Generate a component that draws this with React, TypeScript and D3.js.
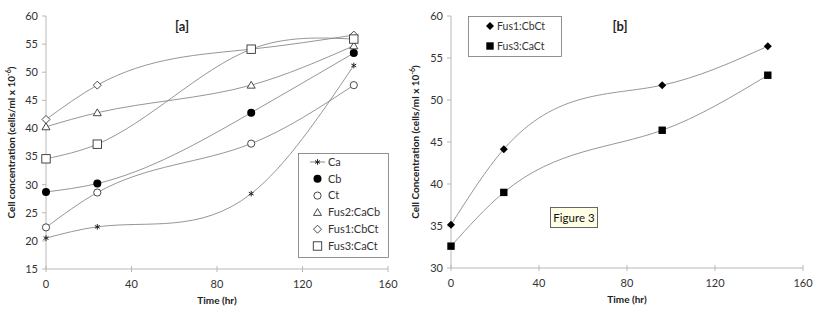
import React, { useEffect, useRef } from 'react';
import * as d3 from 'd3';

// time points (hr)
const hours = [0, 24, 96, 144];

// panel [a] series
const caValues = [20.5, 22.5, 28.4, 51.2];
const cbValues = [28.7, 30.2, 42.8, 53.4];
const ctValues = [22.4, 28.6, 37.3, 47.7];
const fus2Values = [40.3, 42.8, 47.7, 54.7];
const fus1Values = [41.6, 47.7, 54.1, 56.6];
const fus3Values = [34.6, 37.2, 54.1, 55.9];

// panel [b] series
const fus1bValues = [35.15, 44.15, 51.76, 56.4];
const fus3bValues = [32.6, 39.0, 46.4, 52.95];

const xTicks = [0, 40, 80, 120, 160];
const yTicksA = [15, 20, 25, 30, 35, 40, 45, 50, 55, 60];
const yTicksB = [30, 35, 40, 45, 50, 55, 60];

const FONT = 'Lato, "Open Sans", sans-serif';
const AXIS = '#b8b8b8';
const LINE = '#8a8a8a';

type Series = { name: string; values: number[]; marker: string };

const seriesA: Series[] = [
  { name: 'Ca', values: caValues, marker: 'star' },
  { name: 'Cb', values: cbValues, marker: 'dot' },
  { name: 'Ct', values: ctValues, marker: 'circle' },
  { name: 'Fus2:CaCb', values: fus2Values, marker: 'triangle' },
  { name: 'Fus1:CbCt', values: fus1Values, marker: 'diamond' },
  { name: 'Fus3:CaCt', values: fus3Values, marker: 'square' },
];

const seriesB: Series[] = [
  { name: 'Fus1:CbCt', values: fus1bValues, marker: 'fdiamond' },
  { name: 'Fus3:CaCt', values: fus3bValues, marker: 'fsquare' },
];

// natural cubic spline y(x), emitted as exact bezier segments
class NaturalX {
  _context: any;
  _x: number[] = [];
  _y: number[] = [];
  constructor(context: any) {
    this._context = context;
  }
  areaStart() {}
  areaEnd() {}
  lineStart() {
    this._x = [];
    this._y = [];
  }
  point(x: number, y: number) {
    this._x.push(+x);
    this._y.push(+y);
  }
  lineEnd() {
    const xs = this._x, ys = this._y, n = xs.length;
    const ctx = this._context;
    if (!n) return;
    ctx.moveTo(xs[0], ys[0]);
    if (n < 3) {
      for (let i = 1; i < n; i++) ctx.lineTo(xs[i], ys[i]);
      return;
    }
    const h: number[] = [], s: number[] = [];
    for (let i = 0; i < n - 1; i++) {
      h.push(xs[i + 1] - xs[i]);
      s.push((ys[i + 1] - ys[i]) / h[i]);
    }
    // tridiagonal solve for second derivatives
    const M = new Array(n).fill(0);
    const a: number[] = [], b: number[] = [], c: number[] = [], r: number[] = [];
    for (let i = 1; i < n - 1; i++) {
      a.push(h[i - 1]);
      b.push(2 * (h[i - 1] + h[i]));
      c.push(h[i]);
      r.push(6 * (s[i] - s[i - 1]));
    }
    const m = b.length;
    for (let i = 1; i < m; i++) {
      const w = a[i] / b[i - 1];
      b[i] -= w * c[i - 1];
      r[i] -= w * r[i - 1];
    }
    const sol = new Array(m).fill(0);
    sol[m - 1] = r[m - 1] / b[m - 1];
    for (let i = m - 2; i >= 0; i--) sol[i] = (r[i] - c[i] * sol[i + 1]) / b[i];
    for (let i = 0; i < m; i++) M[i + 1] = sol[i];

    for (let i = 0; i < n - 1; i++) {
      const hi = h[i];
      const dl = s[i] - (hi * (2 * M[i] + M[i + 1])) / 6;
      const dr = s[i] + (hi * (M[i] + 2 * M[i + 1])) / 6;
      ctx.bezierCurveTo(
        xs[i] + hi / 3, ys[i] + (dl * hi) / 3,
        xs[i + 1] - hi / 3, ys[i + 1] - (dr * hi) / 3,
        xs[i + 1], ys[i + 1]
      );
    }
  }
}

const curveNaturalX: any = (context: any) => new NaturalX(context);

function drawMarker(g: any, kind: string, x: number, y: number) {
  const m = g.append('g').attr('transform', `translate(${x},${y})`);
  if (kind === 'star') {
    m.append('path')
      .attr('d', d3.symbol(d3.symbolAsterisk, 22)())
      .attr('fill', 'none')
      .attr('stroke', '#222')
      .attr('stroke-width', 1);
  } else if (kind === 'dot') {
    m.append('circle').attr('r', 4).attr('fill', '#000');
  } else if (kind === 'circle') {
    m.append('circle').attr('r', 3.6).attr('fill', '#fff').attr('stroke', '#333').attr('stroke-width', 0.9);
  } else if (kind === 'triangle') {
    m.append('path')
      .attr('d', 'M0,-3.8L4,3L-4,3Z')
      .attr('fill', '#fff').attr('stroke', '#333').attr('stroke-width', 0.9);
  } else if (kind === 'diamond') {
    m.append('path')
      .attr('d', 'M0,-4L4,0L0,4L-4,0Z')
      .attr('fill', '#fff').attr('stroke', '#333').attr('stroke-width', 0.9);
  } else if (kind === 'square') {
    m.append('rect')
      .attr('x', -4.2).attr('y', -4.2).attr('width', 8.4).attr('height', 8.4)
      .attr('fill', '#fff').attr('stroke', '#333').attr('stroke-width', 0.9);
  } else if (kind === 'fdiamond') {
    m.append('path').attr('d', 'M0,-4L4,0L0,4L-4,0Z').attr('fill', '#000');
  } else if (kind === 'fsquare') {
    m.append('rect').attr('x', -3.7).attr('y', -3.7).attr('width', 7.4).attr('height', 7.4).attr('fill', '#000');
  }
}

function drawPanel(svg: any, opts: any) {
  const { left, right, top, bottom, yDomain, yTicks, series, title, titleX, ylabel, ylabelX } = opts;
  const x = d3.scaleLinear().domain([0, 160]).range([left, right]);
  const y = d3.scaleLinear().domain(yDomain).range([bottom, top]);
  const g = svg.append('g');

  // axes
  g.append('line').attr('x1', left).attr('x2', left).attr('y1', top).attr('y2', bottom).attr('stroke', AXIS);
  g.append('line').attr('x1', left).attr('x2', right).attr('y1', bottom).attr('y2', bottom).attr('stroke', AXIS);

  yTicks.forEach((t: number) => {
    g.append('line').attr('x1', left - 4).attr('x2', left).attr('y1', y(t)).attr('y2', y(t)).attr('stroke', AXIS);
    g.append('text')
      .attr('x', left - 8).attr('y', y(t)).attr('dy', '0.35em')
      .attr('text-anchor', 'end')
      .attr('font-size', 11).attr('fill', '#333')
      .text(t);
  });
  xTicks.forEach((t: number) => {
    g.append('line').attr('x1', x(t)).attr('x2', x(t)).attr('y1', bottom - 3).attr('y2', bottom + 3).attr('stroke', AXIS);
    g.append('text')
      .attr('x', x(t)).attr('y', bottom + 19)
      .attr('text-anchor', 'middle')
      .attr('font-size', 11).attr('fill', '#333')
      .text(t);
  });

  g.append('text')
    .attr('x', (left + right) / 2).attr('y', bottom + 35)
    .attr('text-anchor', 'middle')
    .attr('font-size', 10).attr('font-weight', 'bold').attr('fill', '#222')
    .text('Time (hr)');

  const yl = g.append('text')
    .attr('transform', `translate(${ylabelX},${(top + bottom) / 2}) rotate(-90)`)
    .attr('text-anchor', 'middle')
    .attr('font-size', 10).attr('font-weight', 'bold').attr('fill', '#222');
  yl.append('tspan').text(ylabel);
  yl.append('tspan').attr('font-size', 7).attr('dy', -4).text('-6');
  yl.append('tspan').attr('dy', 4).text(')');

  g.append('text')
    .attr('x', titleX).attr('y', top + 15)
    .attr('text-anchor', 'middle')
    .attr('font-size', 13).attr('font-weight', 'bold').attr('fill', '#222')
    .text(title);

  const line = d3.line<number>()
    .x((d, i) => x(hours[i]))
    .y((d) => y(d))
    .curve(curveNaturalX);

  series.forEach((s: Series) => {
    g.append('path')
      .attr('d', line(s.values))
      .attr('fill', 'none')
      .attr('stroke', LINE)
      .attr('stroke-width', 0.9);
  });
  series.forEach((s: Series) => {
    s.values.forEach((v, i) => drawMarker(g, s.marker, x(hours[i]), y(v)));
  });
  return g;
}

export default function App() {
  const ref = useRef<SVGSVGElement>(null);

  useEffect(() => {
    const svg = d3.select(ref.current);
    svg.selectAll('*').remove();
    svg.append('rect').attr('width', 817).attr('height', 313).attr('fill', '#fff');

    drawPanel(svg, {
      left: 46, right: 388, top: 16, bottom: 269,
      yDomain: [15, 60], yTicks: yTicksA, series: seriesA,
      title: '[a]', titleX: 182,
      ylabel: 'Cell concentration (cells/ml x 10', ylabelX: 15,
    });

    // legend a
    const la = svg.append('g');
    la.append('rect').attr('x', 298.5).attr('y', 153.5).attr('width', 90).attr('height', 104)
      .attr('fill', '#fff').attr('stroke', '#777').attr('stroke-width', 0.8);
    seriesA.forEach((s, i) => {
      const yy = 162 + i * 16.8;
      if (s.marker === 'star') {
        la.append('line').attr('x1', 310).attr('x2', 325).attr('y1', yy).attr('y2', yy).attr('stroke', LINE);
      }
      drawMarker(la, s.marker, 317.5, yy);
      la.append('text').attr('x', 328).attr('y', yy).attr('dy', '0.35em')
        .attr('font-size', 11).attr('fill', '#333').text(s.name);
    });

    drawPanel(svg, {
      left: 451, right: 803, top: 16, bottom: 268,
      yDomain: [30, 60], yTicks: yTicksB, series: seriesB,
      title: '[b]', titleX: 620,
      ylabel: 'Cell Concentration (cells/ml x 10', ylabelX: 419,
    });

    // legend b
    const lb = svg.append('g');
    lb.append('rect').attr('x', 468.5).attr('y', 16.5).attr('width', 93).attr('height', 40)
      .attr('fill', '#fff').attr('stroke', '#777').attr('stroke-width', 0.8);
    seriesB.forEach((s, i) => {
      const yy = 26 + i * 20;
      drawMarker(lb, s.marker, 490, yy);
      lb.append('text').attr('x', 497).attr('y', yy).attr('dy', '0.35em')
        .attr('font-size', 10.5).attr('fill', '#333').text(s.name);
    });

    // figure label
    const fl = svg.append('g');
    fl.append('rect').attr('x', 550.5).attr('y', 207.5).attr('width', 47).attr('height', 20)
      .attr('fill', '#ffffe6').attr('stroke', '#666').attr('stroke-width', 1);
    fl.append('text').attr('x', 574).attr('y', 217.5).attr('dy', '0.35em')
      .attr('text-anchor', 'middle').attr('font-size', 11.5).attr('fill', '#111').text('Figure 3');
  }, []);

  return (
    <svg
      ref={ref}
      width={817}
      height={313}
      style={{ position: 'absolute', left: 0, top: 0, fontFamily: FONT }}
    />
  );
}
